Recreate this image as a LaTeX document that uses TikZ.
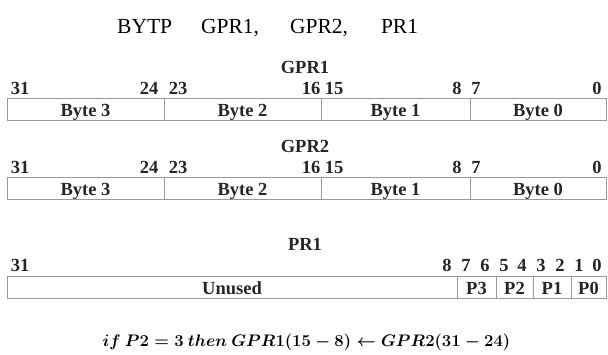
\RequirePackage{fix-cm}
\documentclass[tikz,border=0pt]{standalone}
\usepackage{fontspec}
\setmainfont{Liberation Serif}
\usepackage{amsmath}
\newcommand{\condtext}{{\boldmath$if\ P2 = 3\ then\ GPR1(15 - 8) \leftarrow GPR2(31 - 24)$}}
\begin{document}
\begin{tikzpicture}[x=1pt,y=-1pt,
  boxline/.style={draw=black!40,line width=0.9pt},
  cell/.style={boxline,inner sep=0pt,minimum height=22pt,text height=18.5pt,text depth=3.5pt,
    font=\fontsize{18.5}{21}\selectfont\bfseries,text=black!85},
  bitno/.style={anchor=base,inner sep=0pt,font=\fontsize{18.5}{21}\selectfont\bfseries,text=black!85},
  regname/.style={anchor=base,inner sep=0pt,font=\fontsize{18.5}{21}\selectfont\bfseries,text=black!85}]
\useasboundingbox (0,0) rectangle (608,354);
\fill[white] (0,0) rectangle (608,354);

% heading
\node[anchor=base west,inner sep=0pt,font=\fontsize{21.5}{25}\selectfont] (head) at (117,33) {BYTP\hspace{29pt}GPR1,\hspace{31pt}GPR2,\hspace{33pt}PR1};

% ---------- GPR1 ----------
\node[regname] (t1) at (305,73) {GPR1};
\foreach \n/\x in {31/20,24/149,23/178,16/311,15/334,8/457,7/476,0/597}
  \node[bitno] (a\n) at (\x,94) {\n};
\node[cell,minimum width=157pt] (g1b3) at (85.5,109) {Byte 3};
\node[cell,minimum width=157pt] (g1b2) at (242.5,109) {Byte 2};
\node[cell,minimum width=149pt] (g1b1) at (395.5,109) {Byte 1};
\node[cell,minimum width=136pt] (g1b0) at (538,109) {Byte 0};

% ---------- GPR2 ----------
\node[regname] (t2) at (305,152) {GPR2};
\foreach \n/\x in {31/20,24/149,23/178,16/311,15/334,8/457,7/476,0/597}
  \node[bitno] (b\n) at (\x,173) {\n};
\node[cell,minimum width=157pt] (g2b3) at (85.5,188) {Byte 3};
\node[cell,minimum width=157pt] (g2b2) at (242.5,188) {Byte 2};
\node[cell,minimum width=149pt] (g2b1) at (395.5,188) {Byte 1};
\node[cell,minimum width=136pt] (g2b0) at (538,188) {Byte 0};

% ---------- PR1 ----------
\node[regname] (t3) at (305,250) {PR1};
\foreach \n/\x in {31/20,8/447,7/466,6/485,5/504,4/522,3/541,2/560,1/579,0/597}
  \node[bitno] (c\n) at (\x,271) {\n};
\node[cell,minimum width=450pt] (unused) at (232,287) {Unused};
\node[cell,minimum width=39pt] (p3) at (476.5,287) {P3};
\node[cell,minimum width=37pt] (p2) at (514.5,287) {P2};
\node[cell,minimum width=38pt] (p1) at (552,287) {P1};
\node[cell,minimum width=35pt] (p0) at (588.5,287) {P0};

% selection condition
\node[anchor=base,inner sep=0pt,font=\fontsize{16.7}{19}\selectfont] (cond) at (306.5,346) {\condtext};
\end{tikzpicture}
\end{document}
